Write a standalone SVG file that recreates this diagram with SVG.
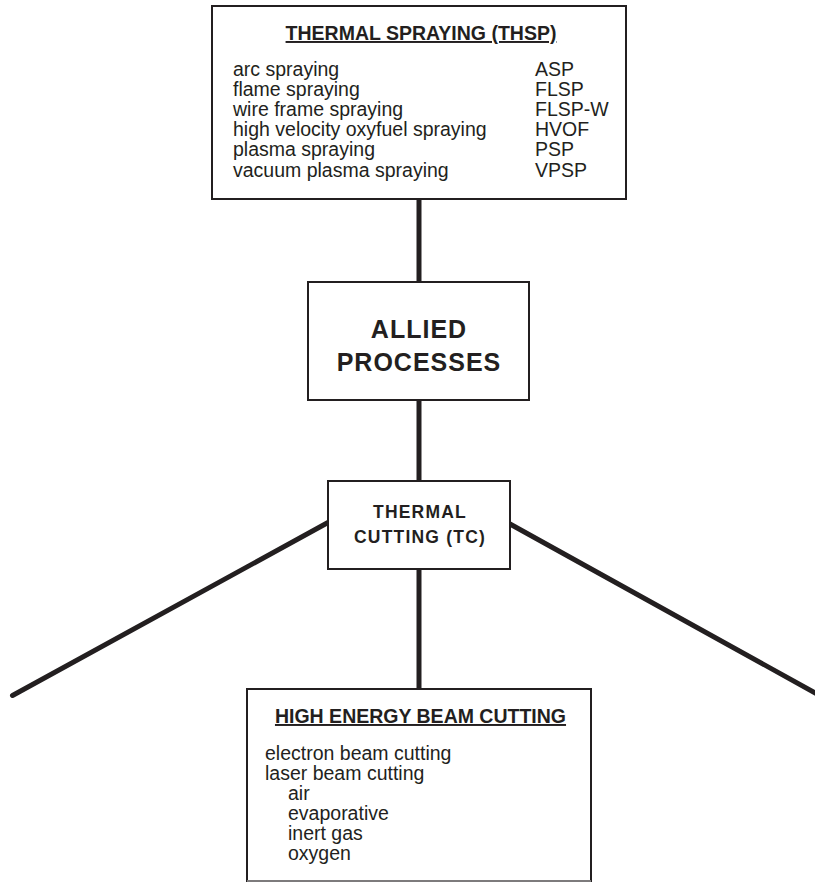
<svg xmlns="http://www.w3.org/2000/svg" width="815" height="882" viewBox="0 0 815 882">
<style>
.box{fill:#ffffff;stroke:#231f20;stroke-width:2}
.conn{stroke:#231f20;stroke-width:5;fill:none;stroke-linecap:round}
text{font-family:"Liberation Sans",Arial,Helvetica,sans-serif;fill:#231f20}
.title{font-size:19.5px;font-weight:bold;text-anchor:middle;text-decoration:underline}
.body{font-size:19.5px}
.big{font-size:25px;font-weight:bold;text-anchor:middle;letter-spacing:1px}
.mid{font-size:17.5px;font-weight:bold;text-anchor:middle;letter-spacing:1.2px}
</style>
<rect width="815" height="882" fill="#ffffff"/>
<g id="connectors">
<line class="conn" x1="419" y1="199" x2="419" y2="282" style="stroke-linecap:butt"/>
<line class="conn" x1="419" y1="400" x2="419" y2="481" style="stroke-linecap:butt"/>
<line class="conn" x1="419" y1="569" x2="419" y2="689" style="stroke-linecap:butt"/>
<line class="conn" x1="328" y1="522.5" x2="12.5" y2="695.5"/>
<line class="conn" x1="510" y1="524" x2="818" y2="694.5"/>
</g>
<g id="thermal-spraying">
<rect class="box" x="212" y="6" width="414" height="193"/>
<text class="title" x="421" y="40">THERMAL SPRAYING (THSP)</text>
<text class="body" x="233" y="75.5">arc spraying</text>
<text class="body" x="233" y="95.8">flame spraying</text>
<text class="body" x="233" y="116">wire frame spraying</text>
<text class="body" x="233" y="136.2">high velocity oxyfuel spraying</text>
<text class="body" x="233" y="156.4">plasma spraying</text>
<text class="body" x="233" y="176.7">vacuum plasma spraying</text>
<text class="body" x="535" y="75.5">ASP</text>
<text class="body" x="535" y="95.8">FLSP</text>
<text class="body" x="535" y="116">FLSP-W</text>
<text class="body" x="535" y="136.2">HVOF</text>
<text class="body" x="535" y="156.4">PSP</text>
<text class="body" x="535" y="176.7">VPSP</text>
</g>
<g id="allied-processes">
<rect class="box" x="308" y="282" width="221" height="118"/>
<text class="big" x="419" y="338">ALLIED</text>
<text class="big" x="419" y="371">PROCESSES</text>
</g>
<g id="thermal-cutting">
<rect class="box" x="328" y="481" width="182" height="88"/>
<text class="mid" x="420" y="518">THERMAL</text>
<text class="mid" x="420" y="543">CUTTING (TC)</text>
</g>
<g id="high-energy-beam-cutting">
<rect class="box" x="247" y="689" width="344" height="192"/>
<line x1="247" y1="881" x2="591" y2="881" stroke="#d8d8d8" stroke-width="1"/>
<text class="title" x="420.5" y="723">HIGH ENERGY BEAM CUTTING</text>
<text class="body" x="265" y="760">electron beam cutting</text>
<text class="body" x="265" y="780">laser beam cutting</text>
<text class="body" x="288" y="800">air</text>
<text class="body" x="288" y="820">evaporative</text>
<text class="body" x="288" y="840">inert gas</text>
<text class="body" x="288" y="859.5">oxygen</text>
</g>
</svg>
